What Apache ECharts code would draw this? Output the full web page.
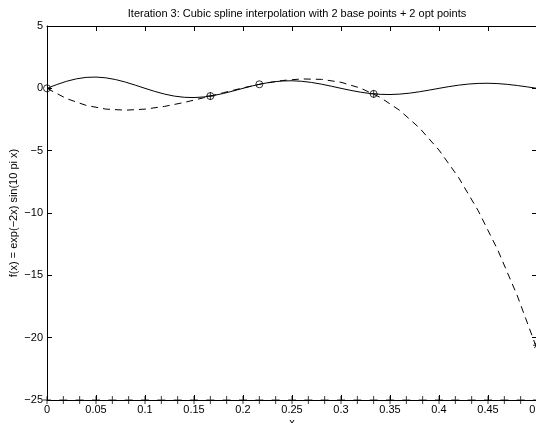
<!DOCTYPE html>
<html><head><meta charset="utf-8">
<script src="https://cdn.jsdelivr.net/npm/echarts@6/dist/echarts.min.js"></script>
<style>html,body{margin:0;padding:0;background:#fff}#c{width:536px;height:423px}</style>
</head><body><div id="c"></div>
<script>
// True function f(x) = exp(-2x) sin(10 pi x), read/sampled every 0.01
const fX = [0,0.01,0.02,0.03,0.04,0.05,0.06,0.07,0.08,0.09,0.1,0.11,0.12,0.13,0.14,0.15,0.16,0.17,0.18,0.19,0.2,0.21,0.22,0.23,0.24,0.25,0.26,0.27,0.28,0.29,0.3,0.31,0.32,0.33,0.34,0.35,0.36,0.37,0.38,0.39,0.4,0.41,0.42,0.43,0.44,0.45,0.46,0.47,0.48,0.49,0.5];
const fY = [0,0.3029,0.5647,0.7619,0.8779,0.9048,0.8435,0.7033,0.5009,0.2581,0,-0.2480,-0.4624,-0.6238,-0.7188,-0.7408,-0.6906,-0.5758,-0.4101,-0.2113,0,0.2030,0.3786,0.5107,0.5885,0.6065,0.5654,0.4714,0.3357,0.1730,0,-0.1662,-0.3099,-0.4181,-0.4818,-0.4966,-0.4629,-0.3860,-0.2749,-0.1417,0,0.1361,0.2538,0.3423,0.3945,0.4066,0.3790,0.3160,0.2251,0.1160,0];
// Cubic spline (dashed)
const splineX = [0,0.02,0.04,0.06,0.08,0.1,0.12,0.14,0.16,0.18,0.2,0.22,0.24,0.26,0.28,0.3,0.32,0.34,0.36,0.38,0.4,0.42,0.44,0.46,0.48,0.5];
const splineY = [0,-0.8259,-1.3687,-1.6654,-1.7530,-1.6686,-1.4492,-1.1319,-0.7537,-0.3517,0.0370,0.3755,0.6266,0.7535,0.7187,0.4856,0.0169,-0.7243,-1.7751,-3.1727,-4.9538,-7.1560,-9.8158,-12.9706,-16.6571,-20.9128];
// Interpolation points
const circleX = [0,0.16667,0.21667,0.33333];
const circleY = [0,-0.6205,0.3242,-0.4446];
const plusX = [0.16667,0.33333];
const plusY = [-0.6205,-0.4446];
const starX = [0.5];
const starY = [-20.6];
// Candidate points along the bottom axis
const candX = [0,0.01667,0.03333,0.05,0.06667,0.08333,0.1,0.11667,0.13333,0.15,0.16667,0.18333,0.2,0.21667,0.23333,0.25,0.26667,0.28333,0.3,0.31667,0.33333,0.35,0.36667,0.38333,0.4,0.41667,0.43333,0.45,0.46667,0.48333,0.5];
const candY = [-25,-25,-25,-25,-25,-25,-25,-25,-25,-25,-25,-25,-25,-25,-25,-25,-25,-25,-25,-25,-25,-25,-25,-25,-25,-25,-25,-25,-25,-25,-25];

const titleText = 'Iteration 3: Cubic spline interpolation with 2 base points + 2 opt points';
const xName = 'x';
const yName = 'f(x) = exp(\u22122x) sin(10 pi x)';

const FONT = 'Liberation Sans';
const zip = (a, b) => a.map((v, i) => [v, b[i]]);
const PLUS = 'path://M4.4,0H5.6V4.4H10V5.6H5.6V10H4.4V5.6H0V4.4H4.4Z';

const chart = echarts.init(document.getElementById('c'), null, {renderer: 'canvas'});
const axisCommon = () => ({
  axisLine: {show: true, onZero: false, lineStyle: {color: '#000', width: 1}},
  axisTick: {show: true, inside: true, length: 5, lineStyle: {color: '#000'}},
  splitLine: {show: false}
});
chart.setOption({
  animation: false,
  backgroundColor: '#fff',
  title: {
    text: titleText, left: 292, top: 3, textAlign: 'center',
    textStyle: {fontSize: 11, fontWeight: 'normal', color: '#000', fontFamily: FONT}
  },
  grid: {left: 47, top: 26, width: 490, height: 374, containLabel: false, outerBoundsMode: 'none'},
  xAxis: [
    Object.assign({
      type: 'value', min: 0, max: 0.5, interval: 0.05, position: 'bottom',
      name: xName, nameLocation: 'middle', nameGap: 17, nameMoveOverlap: false,
      nameTextStyle: {fontSize: 11, color: '#000', fontFamily: FONT},
      axisLabel: {fontSize: 11, color: '#000', fontFamily: FONT, margin: 4,
        formatter: v => String(+v.toFixed(2))}
    }, axisCommon()),
    Object.assign({
      type: 'value', min: 0, max: 0.5, interval: 0.05, position: 'top',
      axisLabel: {show: false}
    }, axisCommon())
  ],
  yAxis: [
    Object.assign({
      type: 'value', min: -25, max: 5, interval: 5, position: 'left',
      name: yName, nameLocation: 'middle', nameGap: 28, nameRotate: 90, nameMoveOverlap: false,
      nameTextStyle: {fontSize: 11, color: '#000', fontFamily: FONT},
      axisLabel: {fontSize: 11, color: '#000', fontFamily: FONT, margin: 4,
        formatter: v => String(v).replace('-', '\u2212')}
    }, axisCommon()),
    Object.assign({
      type: 'value', min: -25, max: 5, interval: 5, position: 'right',
      axisLabel: {show: false}
    }, axisCommon())
  ],
  series: [
    {type: 'line', data: zip(fX, fY), showSymbol: false, symbol: 'none',
      lineStyle: {color: '#000', width: 1}, z: 3},
    {type: 'line', data: zip(splineX, splineY), showSymbol: false, symbol: 'none',
      lineStyle: {color: '#000', width: 1, type: [7, 5]}, z: 3},
    {type: 'scatter', data: zip(circleX, circleY), symbol: 'circle', symbolSize: 7, clip: false,
      itemStyle: {color: 'rgba(0,0,0,0)', borderColor: '#000', borderWidth: 1}, z: 4},
    {type: 'scatter', data: zip(plusX, plusY), symbol: PLUS, symbolSize: 8, clip: false,
      itemStyle: {color: '#000'}, z: 4},
    {type: 'scatter', data: zip(starX, starY), symbol: PLUS, symbolSize: 8, clip: false,
      itemStyle: {color: '#000'}, z: 4},
    {type: 'scatter', data: zip(starX, starY), symbol: PLUS, symbolSize: 8, symbolRotate: 45, clip: false,
      itemStyle: {color: '#000'}, z: 4},
    {type: 'scatter', data: zip(candX, candY), symbol: PLUS, symbolSize: 8, clip: false,
      itemStyle: {color: '#000'}, z: 4}
  ]
});
</script>
</body></html>
